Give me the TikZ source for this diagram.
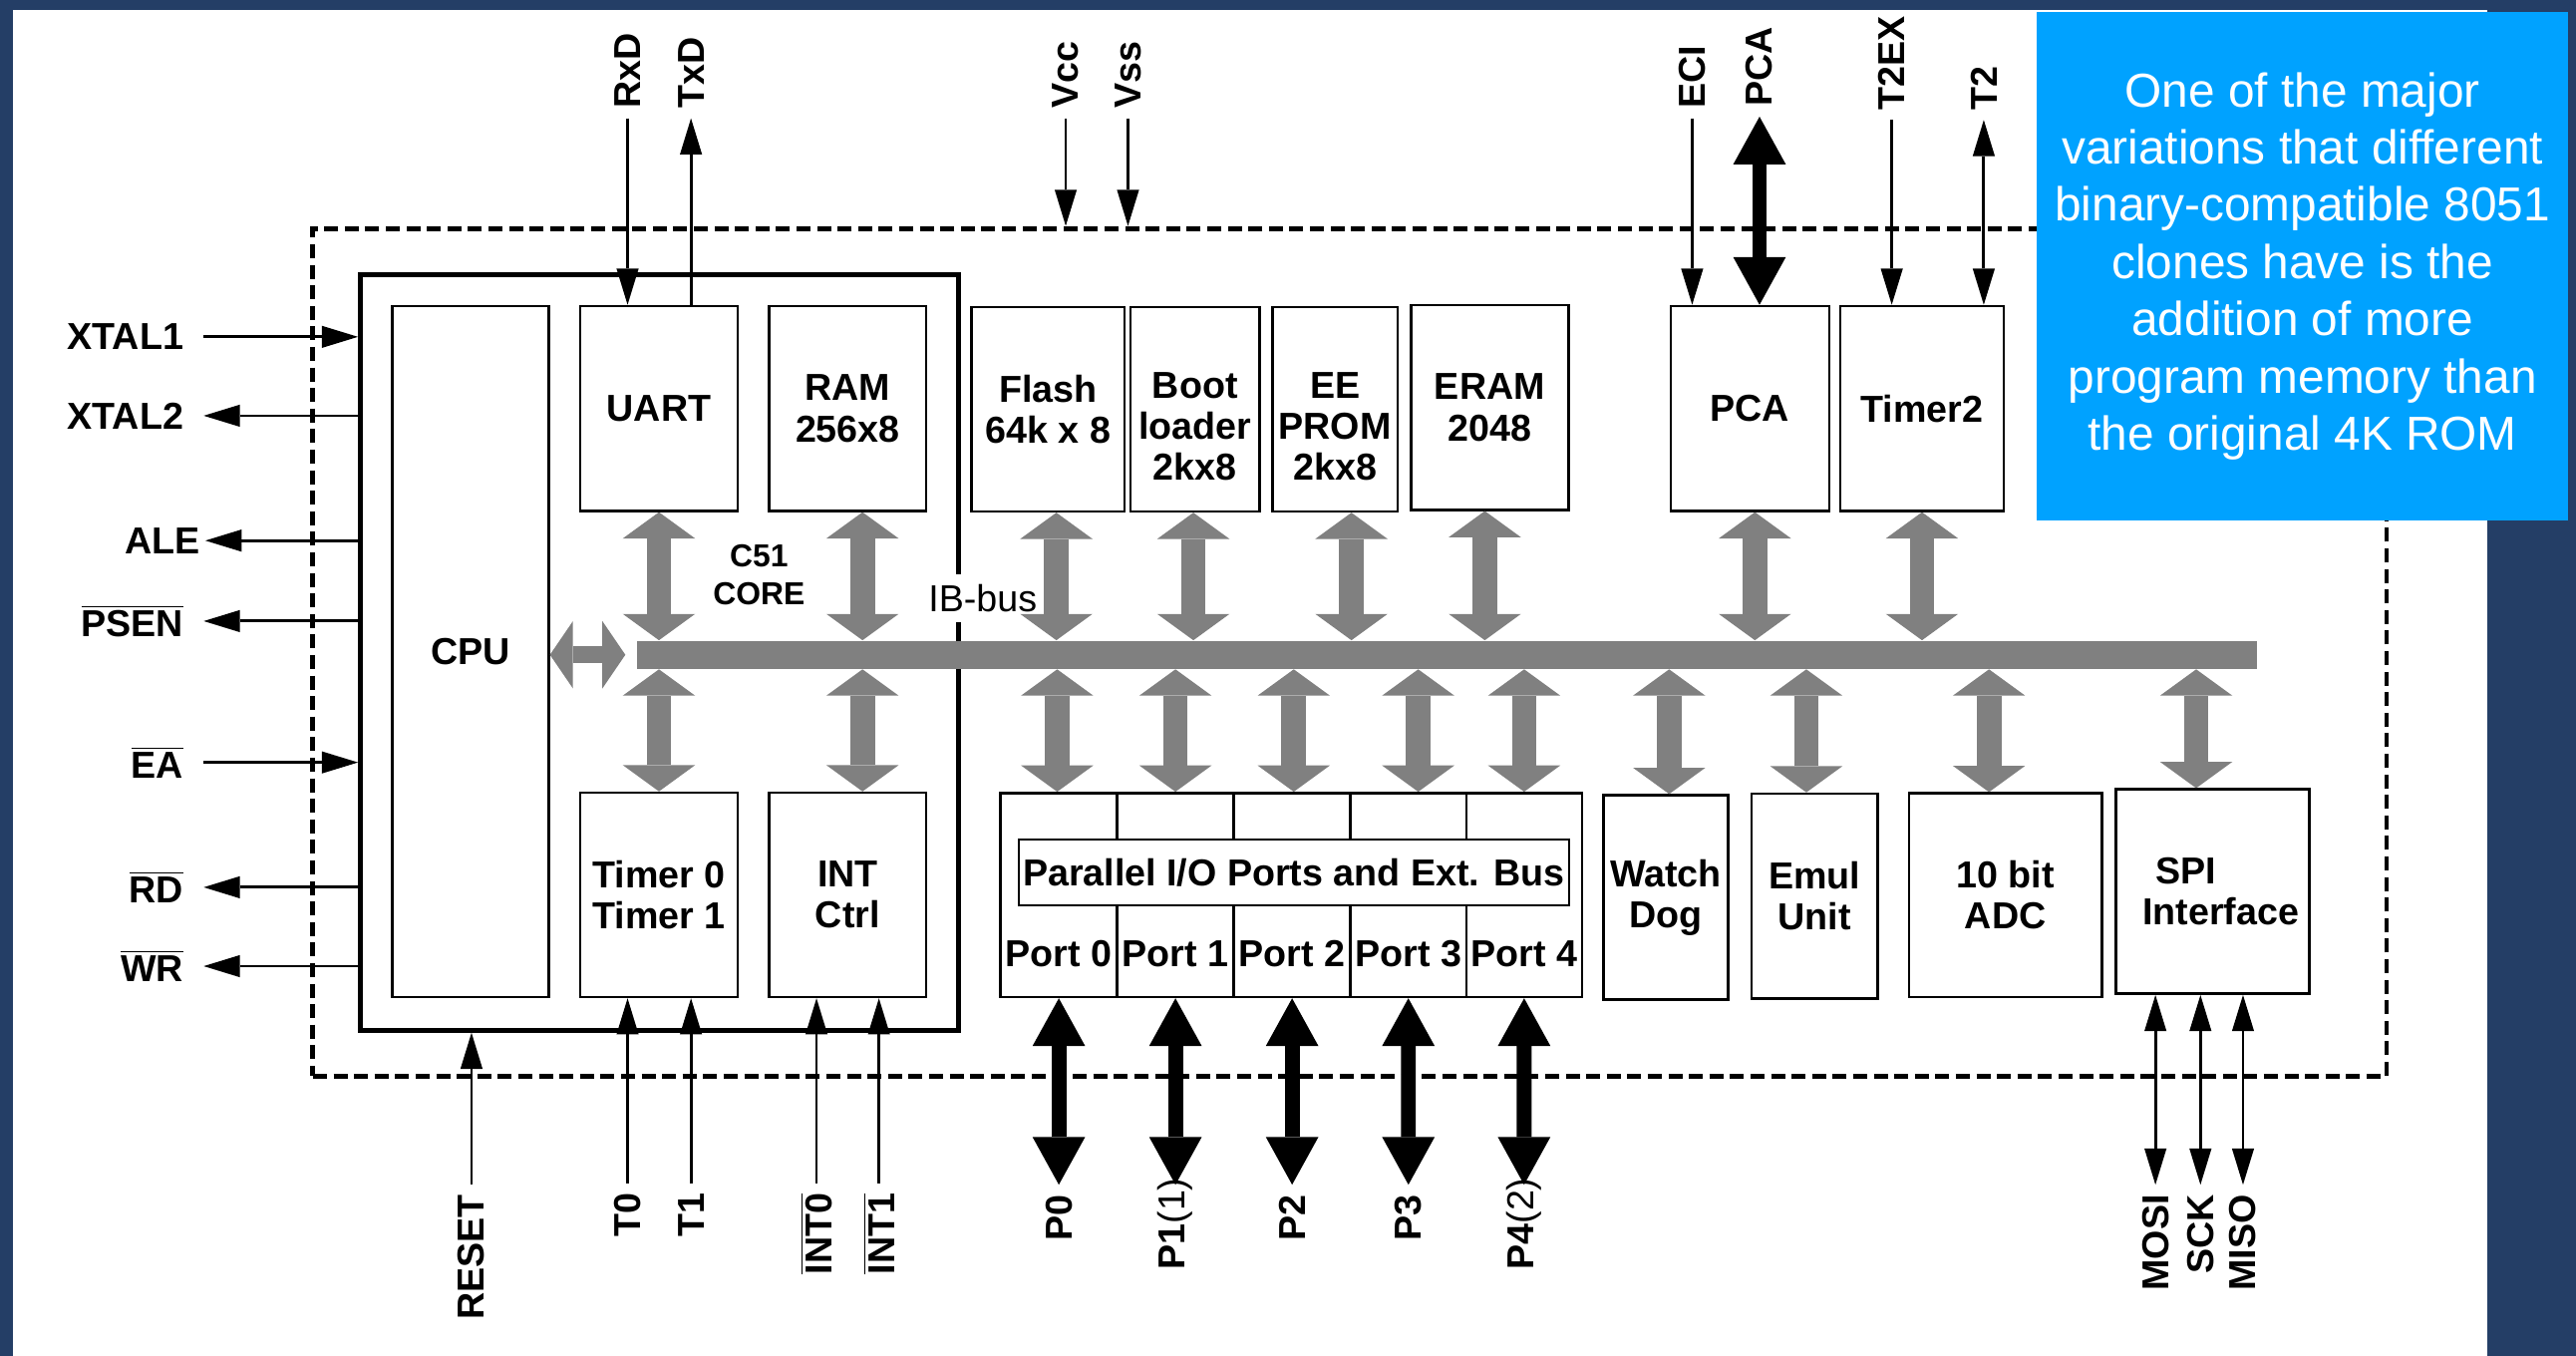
\documentclass[tikz,border=0pt]{standalone}
\usepackage{fontspec}
\setmainfont{Liberation Sans}
\usepackage{xcolor}
\usepackage{tikz}
\usetikzlibrary{positioning, arrows.meta, fit, calc}

\definecolor{slidenavy}{RGB}{36,62,102}
\definecolor{noteblue}{RGB}{0,162,255}
\newcommand{\barred}[1]{$\overline{\mbox{#1}}$}

\begin{document}
\begin{tikzpicture}[x=0.2mm, y=-0.2mm,
  font=\bfseries\fontsize{13}{14.2}\selectfont,
  blk/.style={draw, line width=0.3mm, inner sep=0pt, align=center},
  pin/.style={rotate=90},
  lpin/.style={anchor=east, inner xsep=6.8pt},
  sig/.style={-{Triangle[length=4.4mm, width=2.7mm, line width=0pt]}, line width=0.35mm},
  sigboth/.style={{Triangle[length=4.4mm, width=2.7mm, line width=0pt]}-{Triangle[length=4.4mm, width=2.7mm, line width=0pt]}, line width=0.35mm},
  portbus/.style={{Triangle[length=5.8mm, width=6.4mm, line width=0pt]}-{Triangle[length=5.8mm, width=6.4mm, line width=0pt]}, line width=1.8mm},
  ibarrow/.style={gray, {Triangle[length=3.2mm, width=8.8mm, line width=0pt]}-{Triangle[length=3.2mm, width=8.8mm, line width=0pt]}, line width=3mm},
  cpuarrow/.style={gray, {Triangle[length=2.8mm, width=8.2mm, line width=0pt]}-{Triangle[length=2.8mm, width=8.2mm, line width=0pt]}, line width=2mm}]
  \useasboundingbox (0,0) rectangle (1568,825);
  \fill[slidenavy] (0,0) rectangle (1568,825);
  \fill[white] (8,6) rectangle (1514,825);

  % chip outline and the note
  \node[draw, line width=0.6mm, dash pattern=on 1.7mm off 0.8mm, inner sep=0pt, fit={(190.5,139) (1452.7,655)}] (chip) {};
  \node[fill=noteblue, text=white, inner sep=0pt, align=center, font=\fontsize{16.5}{19.8}\selectfont,
        minimum width=64.6mm, minimum height=61.8mm] (note) at (1401.5,162)
    {One of the major\\variations that different\\binary-compatible 8051\\clones have is the\\addition of more\\program memory than\\the original 4K ROM};

  % C51 core
  \node[draw, line width=0.6mm, inner sep=0pt, fit={(219.4,167) (583.7,627)}] (core) {};
  \node[fill=white, inner xsep=1pt, inner ysep=3.5pt, anchor=west, font=\fontsize{13}{14}\selectfont] (ibbus) at (563,364) {IB-bus};
  \node[blk, minimum width=19.04mm, minimum height=84.1mm] (cpu) at (286.4,396.6) {CPU};
  \node[blk, minimum width=19.16mm, minimum height=24.94mm] (uart) at (401.1,248.6) {UART};
  \node[blk, minimum width=19.1mm, minimum height=24.94mm] (ram) at (516,248.6) {RAM\\256x8};
  \node[blk, minimum width=19.16mm, minimum height=24.88mm] (tmr01) at (401.1,544.6) {Timer 0\\Timer 1};
  \node[blk, minimum width=19.1mm, minimum height=24.88mm] (intc) at (516,544.6) {INT\\Ctrl};
  \node[font=\bfseries\fontsize{11}{13}\selectfont, align=center] (c51) at (462,350) {C51\\CORE};

  % memories and timers
  \node[blk, minimum width=18.64mm, minimum height=24.9mm] (flash) at (638,249) {Flash\\64k x 8};
  \node[blk, minimum width=15.72mm, minimum height=24.9mm] (boot) at (727.4,249) {};
  \node[blk, minimum width=15.24mm, minimum height=24.9mm] (eeprom) at (812.6,249) {};
  \node[align=center] (boottext) at ([yshift=-2.1mm]boot.center) {Boot\\loader\\2kx8};
  \node[align=center] (eetext) at ([yshift=-2.1mm]eeprom.center) {EE\\PROM\\2kx8};
  \node[blk, minimum width=19.2mm, minimum height=24.9mm] (eram) at (906.8,248) {ERAM\\2048};
  \node[blk, minimum width=19.3mm, minimum height=24.94mm] (pca) at (1065.2,248.6) {PCA};
  \node[blk, minimum width=19.94mm, minimum height=24.94mm] (tmr2) at (1169.9,248.6) {Timer2};

  % peripherals
  \foreach \i/\xc/\w in {0/644.5/14.2, 1/715.5/14.2, 2/786.5/14.2, 3/857.25/14.1, 4/927.75/14.1} {
    \node[blk, minimum width=\w mm, minimum height=24.84mm] (port\i) at (\xc,544.7) {};
    \node (portlbl\i) at ([yshift=5.4mm]port\i.south) {Port \i};
  }
  \node[blk, fill=white, minimum width=67mm, minimum height=8mm] (pio) at (787.5,531) {Parallel I/O Ports and Ext. Bus};
  \node[blk, minimum width=15.2mm, minimum height=24.88mm] (wdog) at (1014,546.2) {Watch\\Dog};
  \node[blk, minimum width=15.4mm, minimum height=24.92mm] (emul) at (1104.5,545.3) {Emul\\Unit};
  \node[blk, minimum width=23.48mm, minimum height=24.8mm] (adc) at (1220.7,544.8) {10 bit\\ADC};
  \node[blk, minimum width=23.52mm, minimum height=24.88mm] (spi) at (1346.8,542.6) {};
  \node[align=left] (spitext) at ([xshift=1mm]spi.center) {\hspace{1.6mm}SPI\\Interface};

  % internal bus
  \node[fill=gray, inner sep=0pt, fit={(388,390) (1374,407)}] (bus) {};
  \draw[cpuarrow, shorten >=1.4mm] (cpu.east |- bus.west) -- (bus.west);
  \foreach \b/\s in {uart/0, ram/9, flash/5, boot/-1, eeprom/10, eram/-3, pca/3, tmr2/0}
    \draw[ibarrow] ([xshift=\s*0.2mm]\b.south) coordinate (tip) -- (tip |- bus.north);
  \foreach \b/\s in {tmr01/0, intc/9, port0/-1, port1/0, port2/1, port3/6, port4/0, wdog/2, emul/-5, adc/-10, spi/-10}
    \draw[ibarrow] ([xshift=\s*0.2mm]\b.north) coordinate (tip) -- (tip |- bus.south);

  % pins on the left
  \node[lpin] (xtal1) at (124,205) {XTAL1};
  \node[lpin] (xtal2) at (124,253) {XTAL2};
  \node[lpin, inner xsep=1.5pt] (ale) at (125,329) {ALE};
  \node[lpin] (psen) at (124,378) {\barred{PSEN}};
  \node[lpin] (ea) at (124,464) {\barred{EA}};
  \node[lpin] (rd) at (124,540) {\barred{RD}};
  \node[lpin] (wr) at (124,588) {\barred{WR}};
  \draw[sig] (xtal1) -- (xtal1 -| core.west);
  \draw[sig] (ea) -- (ea -| core.west);
  \foreach \p in {xtal2, ale, psen, rd, wr}
    \draw[sig] (core.west |- \p) -- (\p);

  % pins on top
  \node[pin, anchor=west] (rxd) at (382,72) {RxD};
  \node[pin, anchor=west] (txd) at (420.6,72) {TxD};
  \node[pin, anchor=west] (vcc) at (648.7,72) {Vcc};
  \node[pin, anchor=west] (vss) at (686.6,72) {Vss};
  \node[pin, anchor=west] (eci) at (1030,72) {ECI};
  \node[pin, anchor=west] (pcapin) at (1071,71) {PCA};
  \node[pin, anchor=west] (t2ex) at (1151.5,73) {T2EX};
  \node[pin, anchor=west] (t2) at (1207.5,73) {T2};
  \draw[sig] (rxd) -- (rxd |- uart.north);
  \draw[sig] (txd |- uart.north) -- (txd);
  \draw[sig] (vcc) -- (vcc |- chip.north);
  \draw[sig] (vss) -- (vss |- chip.north);
  \draw[sig] (eci) -- (eci |- pca.north);
  \draw[portbus] (pcapin) -- (pcapin |- pca.north);
  \draw[sig] (t2ex) -- (t2ex |- tmr2.north);
  \draw[sigboth] (t2) -- (t2 |- tmr2.north);

  % pins at the bottom
  \node[pin, anchor=east] (reset) at (287,721) {RESET};
  \node[pin, anchor=east] (t0) at (382,720) {T0};
  \node[pin, anchor=east] (t1) at (420.6,720) {T1};
  \node[pin, anchor=east] (int0) at (497,720) {\barred{INT0}};
  \node[pin, anchor=east] (int1) at (535,720) {\barred{INT1}};
  \draw[sig] (reset) -- (reset |- core.south);
  \foreach \p in {t0, t1}
    \draw[sig] (\p) -- (\p |- tmr01.south);
  \foreach \p in {int0, int1}
    \draw[sig] (\p) -- (\p |- intc.south);

  \node[pin, anchor=east] (p0) at (644.5,721) {P0};
  \coordinate (p1tip) at (715.5,721);
  \node[pin, anchor=west] (p1) at (715.5,779) {P1\mdseries(1)};
  \node[pin, anchor=east] (p2) at (786.5,721) {P2};
  \node[pin, anchor=east] (p3) at (857.3,721) {P3};
  \coordinate (p4tip) at (927.7,721);
  \node[pin, anchor=west] (p4) at (927.7,779) {P4\mdseries(2)};
  \draw[portbus] (port0.south) -- (p0);
  \draw[portbus] (port1.south) -- (p1tip);
  \draw[portbus] (port2.south) -- (p2);
  \draw[portbus] (port3.south) -- (p3);
  \draw[portbus] (port4.south) -- (p4tip);

  \node[pin, anchor=east] (mosi) at (1312,721) {MOSI};
  \node[pin, anchor=east] (sck) at (1339.4,721) {SCK};
  \node[pin, anchor=east] (miso) at (1365.3,721) {MISO};
  \foreach \p in {mosi, sck, miso}
    \draw[sigboth] (spi.south -| \p) -- (\p);
\end{tikzpicture}
\end{document}
